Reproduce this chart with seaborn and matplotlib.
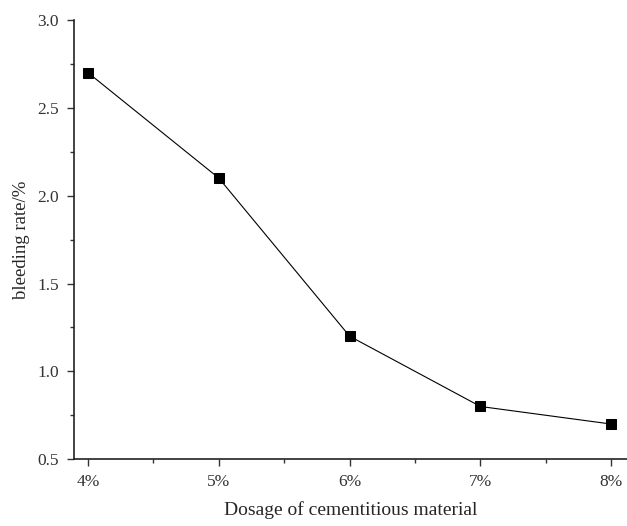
import matplotlib
matplotlib.use("Agg")
import matplotlib.pyplot as plt
import seaborn as sns
import pandas as pd
from matplotlib.ticker import MultipleLocator

# data
dosage = ["4%", "5%", "6%", "7%", "8%"]
bleeding = [2.7, 2.1, 1.2, 0.8, 0.7]

df = pd.DataFrame({"pos": range(len(dosage)), "bleeding": bleeding})

sns.set_style("ticks")
plt.rcParams["font.family"] = ["Liberation Serif", "DejaVu Serif"]

fig = plt.figure(figsize=(6.27, 5.26), dpi=100)
ax = fig.add_axes([0.118, 0.127, 0.882, 0.835])

sns.lineplot(data=df, x="pos", y="bleeding", ax=ax, color="black", linewidth=0.8,
             marker="s", markersize=7.5, markeredgecolor="black", markerfacecolor="black")

ax.set_xlim(-0.107, 4.12)
ax.set_ylim(0.5, 3.0)
ax.set_xticks(range(len(dosage)))
ax.set_xticklabels(dosage)
ax.xaxis.set_minor_locator(MultipleLocator(0.5))
ax.yaxis.set_major_locator(MultipleLocator(0.5))
ax.yaxis.set_minor_locator(MultipleLocator(0.25))
ax.yaxis.set_major_formatter(matplotlib.ticker.FormatStrFormatter("%.1f"))

ax.tick_params(which="major", direction="out", length=5, width=1, labelsize=12.5,
               colors="#333333", pad=6)
ax.tick_params(which="minor", direction="out", length=3, width=1, colors="#333333")
for s in ["left", "bottom"]:
    ax.spines[s].set_linewidth(1.2)
    ax.spines[s].set_color("#222222")
sns.despine(ax=ax)

ax.set_xlabel("Dosage of cementitious material", fontsize=14, labelpad=8)
ax.set_ylabel("bleeding rate/%", fontsize=13.5, labelpad=5)

fig.savefig("out.png", dpi=100)
